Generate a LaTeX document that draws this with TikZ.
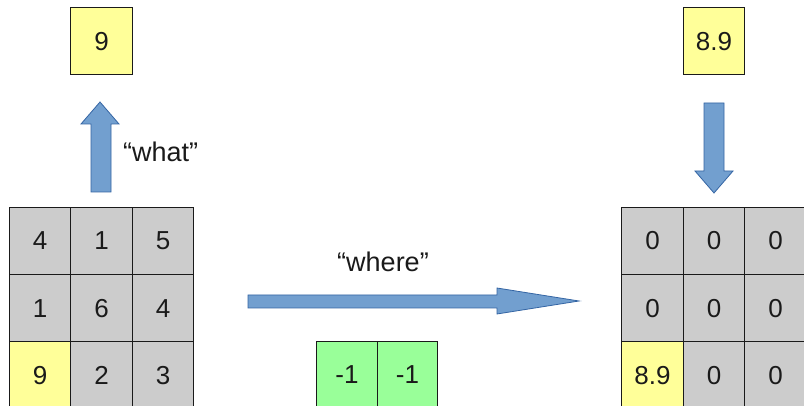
\documentclass[tikz,border=0pt]{standalone}
\usepackage{fontspec}
\setmainfont{Liberation Sans}
\definecolor{cellgray}{HTML}{CCCCCC}
\definecolor{cellyellow}{HTML}{FFFF99}
\definecolor{cellgreen}{HTML}{99FF99}
\definecolor{arrowfill}{HTML}{729FCF}
\definecolor{arrowline}{HTML}{3465A4}
\definecolor{ink}{HTML}{1A1A1A}
\begin{document}
\begin{tikzpicture}[x=1pt,y=-1pt,
  cell/.style={draw=ink,line width=1pt,fill=cellgray,minimum width=61.5pt,minimum height=67pt,inner sep=0pt,
    font=\fontsize{26}{30}\selectfont,text=ink,anchor=center},
  ycell/.style={cell,fill=cellyellow},
  gcell/.style={cell,fill=cellgreen,minimum width=60.5pt},
  blockarrow/.style={draw=arrowline,line width=0.8pt,fill=arrowfill,line join=miter},
  lbl/.style={font=\fontsize{27}{30}\selectfont,text=ink,inner sep=0pt}]
\useasboundingbox (0,0) rectangle (804,406);
\clip (0,0) rectangle (804,406);
\fill[white] (0,0) rectangle (804,406);
% left grid
\node[cell] (a11) at (40,241) {4};
\node[cell] (a12) at (101.5,241) {1};
\node[cell] (a13) at (163,241) {5};
\node[cell] (a21) at (40,308.5) {1};
\node[cell] (a22) at (101.5,308.5) {6};
\node[cell] (a23) at (163,308.5) {4};
\node[ycell] (a31) at (40,375.5) {9};
\node[cell] (a32) at (101.5,375.5) {2};
\node[cell] (a33) at (163,375.5) {3};
% top left box
\node[ycell] (what) at (101.5,41.5) {9};
% up arrow
\draw[blockarrow] (91,192) -- (91,124) -- (81,124) -- (100,102) -- (119,124) -- (111,124) -- (111,192) -- cycle;
\node[lbl,anchor=west] (whatlbl) at (123,152) {“what”};
% where arrow
\draw[blockarrow] (248,295) -- (497,295) -- (497,288) -- (579,301) -- (497,314) -- (497,308) -- (248,308) -- cycle;
\node[lbl] (wherelbl) at (383,262) {“where”};
% green boxes
\node[gcell] (g1) at (347,375) {-1};
\node[gcell] (g2) at (407.5,375) {-1};
% right top box
\node[ycell] (res) at (714,41.5) {8.9};
% down arrow
\draw[blockarrow] (704,103) -- (724,103) -- (724,171) -- (733,171) -- (714,193) -- (695,171) -- (704,171) -- cycle;
% right grid
\node[cell] (b11) at (652.5,241) {0};
\node[cell] (b12) at (714,241) {0};
\node[cell] (b13) at (775.5,241) {0};
\node[cell] (b21) at (652.5,308.5) {0};
\node[cell] (b22) at (714,308.5) {0};
\node[cell] (b23) at (775.5,308.5) {0};
\node[ycell] (b31) at (652.5,375.5) {8.9};
\node[cell] (b32) at (714,375.5) {0};
\node[cell] (b33) at (775.5,375.5) {0};
\end{tikzpicture}
\end{document}
